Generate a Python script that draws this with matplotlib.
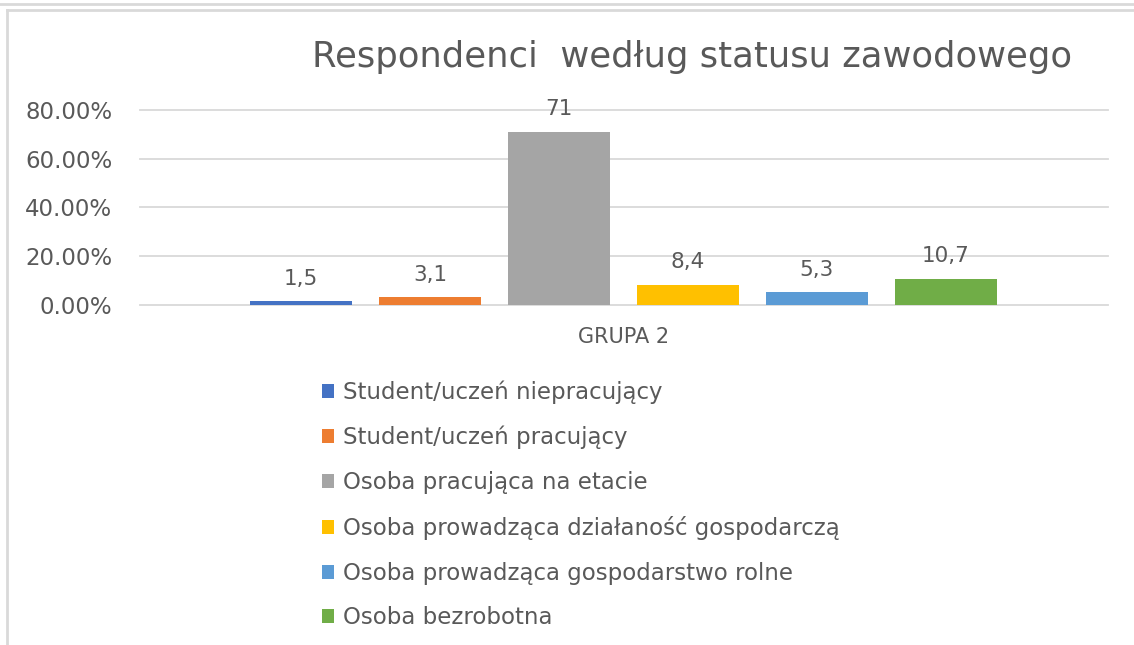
import matplotlib.pyplot as plt
from matplotlib.lines import Line2D
from matplotlib.patches import Patch
from matplotlib.ticker import PercentFormatter

kategorie = ['Student/uczeń niepracujący', 'Student/uczeń pracujący',
             'Osoba pracująca na etacie', 'Osoba prowadząca działaność gospodarczą',
             'Osoba prowadząca gospodarstwo rolne', 'Osoba bezrobotna']
wartosci = [1.5, 3.1, 71, 8.4, 5.3, 10.7]
kolory = ['#4472C4', '#ED7D31', '#A5A5A5', '#FFC000', '#5B9BD5', '#70AD47']
grupa = 'GRUPA 2'
tytul = 'Respondenci  według statusu zawodowego'

szary = '#595959'
plt.rcParams['font.family'] = ['DejaVu Sans']

fig = plt.figure(figsize=(11.34, 6.45), dpi=100)
ax = fig.add_axes([140 / 1134, 1 - 305 / 645, 968 / 1134, 195 / 645])

pozycje = list(range(len(wartosci)))
ax.bar(pozycje, [v / 100 for v in wartosci], width=0.79, color=kolory, zorder=3)
for x, v in zip(pozycje, wartosci):
    ax.annotate(f'{v:g}'.replace('.', ','), (x, v / 100), xytext=(0, 9),
                textcoords='offset points', ha='center', va='bottom',
                fontsize=15.5, color=szary)

ax.set_xlim(-1.25, 6.26)
ax.set_ylim(0, 0.8)
ax.set_yticks([0, 0.2, 0.4, 0.6, 0.8])
ax.yaxis.set_major_formatter(PercentFormatter(xmax=1, decimals=2))
ax.set_xticks([2.5])
ax.set_xticklabels([grupa])
ax.tick_params(axis='x', length=0, pad=16, labelsize=15, labelcolor=szary)
ax.tick_params(axis='y', length=0, pad=20, labelsize=16.5, labelcolor=szary)
ax.grid(axis='y', color='#D9D9D9', linewidth=1.3, zorder=0, clip_on=False)
for s in ax.spines.values():
    s.set_visible(False)

fig.text(692 / 1134, 1 - 57 / 645, tytul, ha='center', va='center',
         fontsize=25.5, color=szary)

uchwyty = [Patch(facecolor=c, edgecolor='none') for c in kolory]
fig.legend(uchwyty, kategorie, loc='upper left',
           bbox_to_anchor=(301 / 1134, 1 - 360 / 645), frameon=False,
           fontsize=16.5, labelcolor=szary, handlelength=0.55, handleheight=0.55,
           handletextpad=0.4, labelspacing=0.95)

# ramka wykresu
szary_ramka = '#D9D9D9'
fig.add_artist(Line2D([0, 1], [1 - 4 / 645, 1 - 4 / 645], color=szary_ramka, linewidth=2))
fig.add_artist(Line2D([7 / 1134, 1], [1 - 10 / 645, 1 - 10 / 645], color=szary_ramka, linewidth=2))
fig.add_artist(Line2D([7 / 1134, 7 / 1134], [0, 1 - 10 / 645], color=szary_ramka, linewidth=2))

fig.savefig('out.png', dpi=100)
plt.close(fig)
